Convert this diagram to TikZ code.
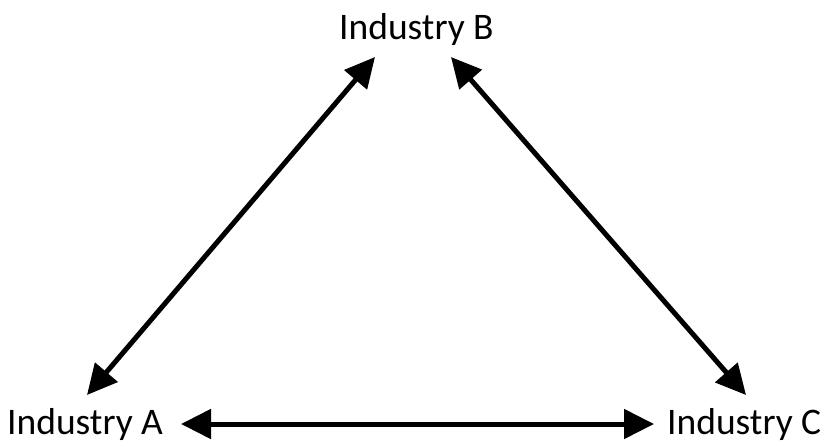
\documentclass[tikz,border=0pt]{standalone}
\usepackage{fontspec}
\setmainfont{Carlito}
\usetikzlibrary{arrows.meta}
\tikzset{
  label/.style={anchor=base west, inner sep=0pt, font=\fontsize{37.5}{42}\selectfont},
  link/.style={line width=5pt, {Triangle[length=30pt,width=29pt]}-{Triangle[length=30pt,width=29pt]}}
}
\begin{document}
\begin{tikzpicture}[x=1pt,y=-1pt]
  \useasboundingbox (0,0) rectangle (825,442);
  % industry labels
  \node[label] (B) at (339,39) {Industry B};
  \node[label] (A) at (7,434) {Industry A};
  \node[label] (C) at (667,434) {Industry C};
  % arrow end points beside each label
  \coordinate (AB) at (87,395);
  \coordinate (BA) at (375,57);
  \coordinate (BC) at (451,57);
  \coordinate (CB) at (746,395);
  \coordinate (AC) at (181,424);
  \coordinate (CA) at (654,424);
  % two-way links
  \draw[link] (AB) -- (BA);
  \draw[link] (BC) -- (CB);
  \draw[link] (AC) -- (CA);
\end{tikzpicture}
\end{document}
